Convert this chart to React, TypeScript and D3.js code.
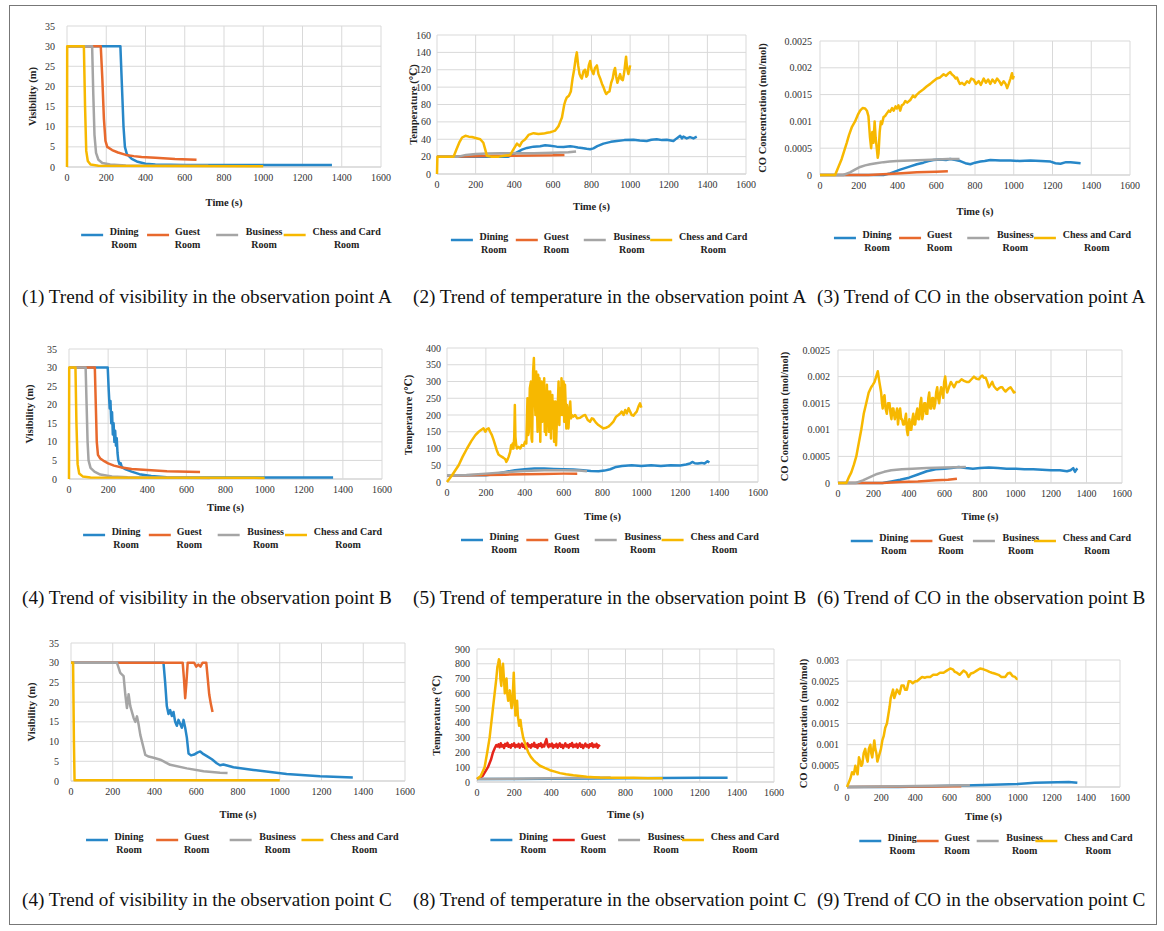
import React from 'react';
import * as d3 from 'd3';

type Pt = [number, number];

const FONT = "'Liberation Serif', 'Times New Roman', 'DejaVu Serif', serif";

// shared axis ticks
const timeTicks = [0, 200, 400, 600, 800, 1000, 1200, 1400, 1600];
const visTicks = [0, 5, 10, 15, 20, 25, 30, 35];
const tempATicks = [0, 20, 40, 60, 80, 100, 120, 140, 160];
const tempBTicks = [0, 50, 100, 150, 200, 250, 300, 350, 400];
const tempCTicks = [0, 100, 200, 300, 400, 500, 600, 700, 800, 900];
const coABTicks = [0, 0.0005, 0.001, 0.0015, 0.002, 0.0025];
const coCTicks = [0, 0.0005, 0.001, 0.0015, 0.002, 0.0025, 0.003];

const roomNames = [['Dining', 'Room'], ['Guest', 'Room'], ['Business', 'Room'], ['Chess and Card', 'Room']];
const roomColors = ['#2787C8', '#E8692D', '#A5A5A5', '#F7B800'];

const captions = [
  '(1) Trend of visibility in the observation point A',
  '(2) Trend of temperature in the observation point A',
  '(3) Trend of CO in the observation point A',
  '(4) Trend of visibility in the observation point B',
  '(5) Trend of temperature in the observation point B',
  '(6) Trend of CO in the observation point B',
  '(4) Trend of visibility in the observation point C',
  '(8) Trend of temperature in the observation point C',
  '(9) Trend of CO in the observation point C',
];

// ---- (1) visibility A
const visA_dining: Pt[] = [[0, 30], [272, 30], [280, 20], [288, 10], [295, 5], [305, 3.2], [330, 2], [360, 1.3], [400, 0.8], [450, 0.6], [600, 0.5], [1000, 0.5], [1350, 0.5]];
const visA_guest: Pt[] = [[0, 30], [172, 30], [180, 22], [188, 12], [196, 6.5], [205, 5], [230, 4.2], [260, 3.6], [300, 3], [340, 2.7], [380, 2.5], [450, 2.3], [550, 2], [660, 1.8]];
const visA_business: Pt[] = [[0, 30], [128, 30], [134, 18], [140, 8], [148, 3.5], [160, 1.8], [180, 1], [220, 0.6], [300, 0.4], [720, 0.3]];
const visA_chess: Pt[] = [[0, 0], [1, 30], [86, 30], [92, 15], [98, 4], [106, 1.5], [120, 0.6], [160, 0.3], [1000, 0.2]];

// ---- (2) temperature A
const tempA_dining: Pt[] = [[0, 20], [370, 20], [390, 22], [414, 25], [440, 28], [466, 30], [500, 31.5], [534, 32], [560, 33], [586, 32.5], [620, 31.5], [655, 31], [690, 32], [707, 31.5], [730, 30.5], [750, 30], [775, 29], [793, 28.5], [810, 29.5], [830, 32], [862, 35], [900, 37], [931, 38], [970, 39], [1017, 39.5], [1050, 38.5], [1086, 38], [1110, 39.5], [1138, 40], [1165, 39], [1190, 39.5], [1224, 38], [1241, 41], [1259, 44], [1268, 41], [1276, 43], [1293, 41], [1310, 42.5], [1328, 41], [1345, 43]];
const tempA_guest: Pt[] = [[0, 20], [120, 20], [200, 20.5], [300, 21], [400, 21], [500, 21.2], [600, 21.5], [660, 22]];
const tempA_business: Pt[] = [[0, 20], [110, 20], [150, 22], [200, 23], [260, 23.5], [330, 23.8], [400, 24], [500, 24], [600, 24.5], [680, 25], [720, 26]];
const tempA_chess: Pt[] = [[0, 0], [2, 20], [86, 20], [100, 28], [115, 36], [130, 42], [147, 44], [165, 43], [181, 42.5], [200, 41.5], [224, 40], [240, 36], [250, 28], [258, 21], [280, 20], [320, 20], [350, 21], [379, 22], [395, 28], [414, 35], [428, 32], [440, 37], [457, 40], [474, 45], [500, 47], [525, 46], [552, 46.5], [570, 47.5], [586, 48], [600, 49], [612, 50], [629, 55], [638, 60], [647, 65], [659, 80], [666, 85], [672, 88], [683, 90], [693, 95], [702, 110], [710, 120], [718, 133], [724, 140], [731, 125], [738, 115], [744, 112], [750, 110], [758, 118], [767, 120], [773, 112], [779, 114], [786, 125], [793, 130], [800, 120], [810, 115], [818, 122], [828, 125], [836, 115], [845, 110], [854, 104], [862, 100], [870, 95], [876, 92], [884, 94], [893, 95], [902, 105], [910, 110], [916, 118], [922, 122], [928, 112], [934, 105], [941, 110], [948, 115], [955, 109], [962, 108], [967, 114], [971, 120], [976, 130], [979, 135], [984, 122], [991, 115], [996, 120], [1000, 125]];

// ---- (3) CO A
const coA_dining: Pt[] = [[0, 0], [328, 0], [362, 0.00003], [414, 0.0001], [466, 0.00016], [500, 0.0002], [534, 0.00023], [560, 0.00026], [586, 0.00028], [620, 0.00029], [650, 0.00028], [672, 0.0003], [700, 0.00028], [724, 0.00026], [750, 0.00022], [776, 0.0002], [800, 0.00023], [828, 0.00025], [850, 0.00026], [879, 0.00028], [930, 0.00027], [983, 0.00027], [1030, 0.00026], [1086, 0.00027], [1140, 0.00026], [1190, 0.00025], [1215, 0.00022], [1241, 0.00021], [1270, 0.00024], [1293, 0.00024], [1320, 0.00023], [1345, 0.00022]];
const coA_guest: Pt[] = [[0, 0], [250, 0], [300, 0.00001], [400, 0.00003], [500, 0.00005], [600, 0.00006], [660, 0.00007]];
const coA_business: Pt[] = [[0, 0], [120, 0], [155, 0.00005], [180, 0.0001], [207, 0.00015], [233, 0.00018], [259, 0.0002], [290, 0.00022], [328, 0.00024], [360, 0.00025], [397, 0.00026], [466, 0.00027], [540, 0.00028], [603, 0.00029], [660, 0.0003], [720, 0.0003]];
const coA_chess: Pt[] = [[0, 0], [78, 0], [95, 0.00015], [112, 0.0003], [125, 0.00045], [138, 0.0006], [150, 0.00075], [165, 0.0009], [181, 0.001], [195, 0.00112], [207, 0.0012], [220, 0.00125], [233, 0.00124], [242, 0.0012], [250, 0.0011], [258, 0.0007], [264, 0.0005], [270, 0.0008], [276, 0.0006], [282, 0.001], [287, 0.0007], [293, 0.0005], [298, 0.00032], [302, 0.0004], [308, 0.0008], [314, 0.001], [320, 0.00095], [328, 0.00108], [336, 0.0011], [345, 0.00115], [355, 0.0012], [362, 0.00118], [372, 0.00125], [380, 0.0012], [390, 0.00128], [397, 0.00124], [405, 0.0013], [414, 0.0012], [422, 0.0013], [431, 0.00132], [440, 0.00138], [450, 0.00135], [466, 0.0014], [480, 0.00148], [490, 0.00145], [500, 0.0015], [515, 0.00155], [534, 0.0016], [550, 0.00165], [569, 0.0017], [585, 0.00175], [603, 0.0018], [620, 0.00182], [638, 0.00188], [650, 0.00185], [664, 0.0019], [672, 0.00192], [680, 0.00188], [690, 0.00185], [700, 0.0018], [707, 0.00182], [715, 0.00175], [722, 0.0017], [733, 0.00172], [745, 0.00168], [759, 0.00175], [770, 0.00172], [781, 0.0018], [793, 0.00178], [805, 0.0017], [819, 0.00175], [830, 0.00168], [845, 0.0018], [856, 0.00172], [868, 0.00178], [879, 0.0017], [890, 0.00178], [903, 0.00172], [914, 0.0018], [925, 0.00175], [936, 0.00168], [948, 0.00175], [958, 0.0017], [966, 0.00162], [974, 0.0017], [983, 0.0018], [991, 0.0019], [996, 0.0018], [1000, 0.00185]];

// ---- (4) visibility B
const visB_dining: Pt[] = [[0, 30], [198, 30], [203, 24], [208, 19], [212, 21], [216, 15], [220, 18], [224, 12], [228, 15], [232, 10], [236, 13], [240, 9], [244, 11], [248, 7], [252, 5], [258, 4], [264, 4.3], [270, 3.2], [290, 2.6], [320, 2], [360, 1.3], [420, 0.8], [500, 0.5], [800, 0.4], [1350, 0.4]];
const visB_guest: Pt[] = [[0, 30], [132, 30], [137, 20], [142, 10], [148, 6.5], [160, 5.5], [180, 4.8], [200, 4.2], [230, 3.6], [270, 3.1], [320, 2.7], [400, 2.4], [500, 2.1], [670, 1.9]];
const visB_business: Pt[] = [[0, 30], [85, 30], [90, 20], [95, 10], [100, 5], [110, 3], [130, 2], [160, 1.2], [220, 0.7], [300, 0.5], [720, 0.3]];
const visB_chess: Pt[] = [[0, 0], [1, 30], [33, 30], [38, 15], [44, 4], [52, 1.5], [70, 0.7], [110, 0.4], [1000, 0.3]];

// ---- (5) temperature B
const tempB_dining: Pt[] = [[0, 20], [200, 20], [250, 24], [300, 30], [350, 35], [400, 38], [450, 40], [500, 40], [550, 39], [600, 38], [650, 37], [700, 35], [740, 33], [780, 32], [810, 34], [840, 38], [870, 45], [900, 48], [950, 50], [1000, 48], [1050, 50], [1100, 48], [1150, 50], [1200, 49], [1230, 52], [1250, 55], [1262, 60], [1275, 56], [1290, 55], [1310, 57], [1325, 55], [1340, 62], [1350, 58]];
const tempB_guest: Pt[] = [[0, 20], [100, 20], [200, 21], [300, 22], [400, 23], [500, 24], [600, 25], [670, 25]];
const tempB_business: Pt[] = [[0, 20], [100, 21], [200, 25], [300, 29], [400, 33], [500, 35], [600, 35], [680, 34], [720, 32]];
const tempB_chess: Pt[] = [[0, 0], [26, 20], [43, 35], [60, 50], [80, 75], [103, 100], [125, 122], [146, 140], [163, 150], [175, 155], [188, 160], [197, 150], [205, 158], [214, 160], [222, 150], [231, 140], [240, 125], [248, 110], [256, 95], [265, 82], [274, 78], [283, 75], [291, 72], [300, 68], [305, 60], [310, 65], [317, 75], [325, 90], [330, 110], [334, 100], [338, 115], [342, 100], [346, 135], [349, 230], [352, 135], [356, 110], [360, 100], [368, 105], [377, 100], [385, 110], [394, 108], [401, 120], [408, 115], [414, 250], [418, 140], [421, 150], [426, 280], [432, 300], [435, 130], [438, 120], [443, 330], [447, 370], [451, 260], [455, 200], [459, 330], [462, 240], [466, 150], [469, 320], [473, 200], [476, 310], [480, 120], [483, 250], [487, 300], [490, 180], [494, 260], [497, 200], [500, 310], [503, 150], [507, 240], [510, 140], [514, 290], [517, 180], [521, 270], [524, 150], [528, 240], [531, 270], [535, 130], [538, 200], [542, 260], [545, 160], [549, 240], [551, 120], [555, 200], [558, 240], [561, 110], [565, 180], [570, 230], [574, 300], [578, 170], [582, 280], [586, 200], [589, 310], [593, 260], [596, 200], [600, 300], [603, 180], [607, 290], [610, 240], [614, 160], [617, 230], [621, 200], [625, 160], [630, 220], [634, 240], [638, 190], [642, 200], [650, 195], [659, 200], [670, 190], [685, 192], [700, 198], [711, 200], [724, 185], [736, 180], [745, 190], [753, 188], [765, 178], [779, 170], [792, 165], [805, 160], [818, 162], [830, 165], [843, 172], [856, 180], [870, 195], [882, 200], [892, 205], [899, 210], [908, 200], [917, 215], [925, 205], [934, 220], [942, 210], [950, 200], [959, 198], [968, 205], [976, 210], [985, 225], [993, 235], [1000, 222]];

// ---- (6) CO B
const coB_dining: Pt[] = [[0, 0], [250, 0], [300, 0.00003], [350, 0.00006], [400, 0.0001], [450, 0.00016], [500, 0.00022], [550, 0.00026], [600, 0.00027], [640, 0.00028], [680, 0.0003], [720, 0.00028], [760, 0.00027], [800, 0.00028], [850, 0.00029], [900, 0.00028], [950, 0.00027], [1000, 0.00027], [1050, 0.00026], [1100, 0.00026], [1150, 0.00025], [1200, 0.00024], [1250, 0.00024], [1290, 0.00022], [1310, 0.00024], [1325, 0.00028], [1335, 0.00021], [1345, 0.00026], [1350, 0.00027]];
const coB_guest: Pt[] = [[0, 0], [250, 0], [350, 0.00002], [450, 0.00003], [550, 0.00005], [620, 0.00006], [670, 0.00008]];
const coB_business: Pt[] = [[0, 0], [100, 0], [140, 0.00005], [180, 0.00011], [220, 0.00017], [260, 0.00021], [300, 0.00024], [360, 0.00026], [420, 0.00027], [500, 0.00028], [600, 0.00029], [720, 0.0003]];
const coB_chess: Pt[] = [[0, 0], [47, 0], [60, 0.0001], [75, 0.0002], [90, 0.00035], [103, 0.0005], [117, 0.00075], [131, 0.001], [145, 0.0013], [159, 0.0015], [173, 0.0017], [187, 0.0018], [197, 0.00185], [206, 0.0019], [215, 0.002], [224, 0.0021], [233, 0.0019], [243, 0.0017], [248, 0.0015], [252, 0.0014], [257, 0.0016], [262, 0.00165], [268, 0.0014], [275, 0.0013], [282, 0.0015], [290, 0.0015], [296, 0.0013], [301, 0.0012], [307, 0.0014], [312, 0.0014], [320, 0.0012], [327, 0.0013], [333, 0.0014], [338, 0.0011], [344, 0.0013], [350, 0.0014], [356, 0.0012], [361, 0.0012], [367, 0.0011], [372, 0.0011], [378, 0.0012], [383, 0.0013], [388, 0.001], [393, 0.0009], [398, 0.0011], [402, 0.0012], [408, 0.001], [413, 0.001], [419, 0.0012], [424, 0.0013], [430, 0.0011], [435, 0.0011], [441, 0.0013], [447, 0.0014], [452, 0.0012], [458, 0.0012], [464, 0.0015], [469, 0.0016], [475, 0.0012], [480, 0.0013], [486, 0.0015], [492, 0.0015], [497, 0.0013], [503, 0.0013], [509, 0.0016], [514, 0.0017], [520, 0.0014], [525, 0.0014], [531, 0.0016], [536, 0.0016], [542, 0.0014], [548, 0.0015], [553, 0.0017], [559, 0.0018], [564, 0.0016], [570, 0.0015], [576, 0.0017], [581, 0.0018], [587, 0.0017], [593, 0.0016], [598, 0.0019], [604, 0.002], [610, 0.0018], [615, 0.0017], [625, 0.0018], [636, 0.0019], [645, 0.00185], [654, 0.0018], [668, 0.0019], [682, 0.0019], [696, 0.00195], [710, 0.00192], [724, 0.0019], [738, 0.0019], [752, 0.00195], [766, 0.002], [780, 0.00196], [794, 0.00195], [805, 0.002], [813, 0.00202], [822, 0.00198], [832, 0.00198], [841, 0.0019], [850, 0.0018], [860, 0.00185], [869, 0.0019], [878, 0.00182], [888, 0.00178], [897, 0.00175], [906, 0.00178], [916, 0.0018], [925, 0.0018], [935, 0.00175], [944, 0.00172], [953, 0.00175], [963, 0.00178], [972, 0.0018], [982, 0.00175], [991, 0.0017], [1000, 0.00172]];

// ---- (7) visibility C
const visC_dining: Pt[] = [[0, 30], [443, 30], [451, 25], [459, 19], [467, 17], [475, 18], [483, 16.5], [491, 17.5], [499, 15], [507, 14], [515, 15.5], [523, 14.5], [531, 13.5], [539, 15.5], [547, 13.5], [555, 11], [563, 7], [575, 6.5], [590, 6.7], [605, 7.2], [619, 7.5], [635, 6.8], [651, 6.3], [675, 5.5], [698, 4.5], [714, 4], [730, 4.2], [778, 3.5], [874, 2.8], [1033, 1.8], [1193, 1.2], [1350, 0.9]];
const visC_guest: Pt[] = [[0, 30], [535, 30], [541, 26], [547, 21], [553, 25], [559, 30], [590, 30], [600, 29], [610, 29.5], [620, 29], [630, 30], [648, 30], [655, 26], [662, 22], [670, 19.5], [678, 17.5]];
const visC_business: Pt[] = [[0, 30], [220, 30], [236, 27.4], [252, 26.6], [260, 22], [268, 18.5], [276, 22], [284, 19], [300, 16], [308, 15], [316, 16.4], [324, 14.3], [332, 11.7], [348, 8.3], [356, 6.6], [372, 6.2], [396, 5.9], [428, 5.4], [475, 4.1], [555, 3.2], [635, 2.5], [714, 2.1], [750, 2]];
const visC_chess: Pt[] = [[0, 30], [10, 30], [14, 10], [17, 0.2], [1000, 0.2]];

// ---- (8) temperature C
const tempC_dining: Pt[] = [[0, 20], [200, 20], [400, 22], [600, 24], [800, 26], [1000, 27], [1200, 28], [1350, 29]];
const tempC_guest: Pt[] = [[0, 20], [30, 40], [59, 100], [75, 150], [86, 200], [96, 230], [104, 250], [110, 240], [116, 255], [122, 235], [128, 262], [134, 240], [140, 250], [146, 230], [152, 258], [158, 245], [164, 265], [170, 238], [176, 250], [182, 232], [188, 255], [194, 245], [200, 262], [206, 235], [212, 250], [218, 240], [224, 258], [230, 232], [236, 248], [242, 260], [248, 238], [254, 252], [260, 228], [266, 245], [272, 262], [278, 240], [284, 250], [290, 232], [296, 255], [302, 243], [308, 265], [314, 238], [320, 250], [326, 230], [332, 256], [338, 244], [344, 262], [350, 236], [356, 252], [362, 240], [368, 270], [374, 290], [380, 250], [386, 236], [392, 255], [398, 242], [404, 260], [410, 232], [416, 250], [422, 240], [428, 258], [434, 232], [440, 248], [446, 262], [452, 238], [458, 252], [464, 230], [470, 246], [476, 262], [482, 240], [488, 250], [494, 232], [500, 256], [506, 244], [512, 264], [518, 236], [524, 252], [530, 240], [536, 258], [542, 232], [548, 248], [554, 262], [560, 238], [566, 252], [572, 230], [578, 246], [584, 260], [590, 240], [596, 250], [602, 232], [608, 256], [614, 244], [620, 262], [626, 236], [632, 252], [638, 240], [644, 258], [650, 232], [656, 248], [662, 240]];
const tempC_business: Pt[] = [[0, 20], [200, 22], [400, 25], [600, 28], [720, 30]];
const tempC_chess: Pt[] = [[0, 20], [20, 40], [41, 100], [55, 200], [68, 300], [77, 400], [86, 500], [95, 600], [104, 700], [110, 780], [114, 800], [118, 830], [122, 820], [126, 700], [131, 650], [135, 760], [140, 800], [145, 700], [150, 600], [154, 680], [159, 700], [163, 600], [168, 550], [172, 590], [177, 620], [182, 540], [186, 500], [190, 520], [194, 620], [198, 740], [202, 600], [207, 450], [211, 500], [216, 550], [220, 450], [227, 380], [234, 420], [240, 360], [249, 300], [262, 250], [276, 200], [290, 170], [303, 150], [320, 130], [339, 110], [365, 95], [393, 80], [420, 70], [447, 60], [480, 52], [519, 45], [555, 40], [591, 35], [630, 32], [663, 30], [750, 29], [843, 28], [920, 26], [987, 25], [1000, 25]];

// ---- (9) CO C
const coC_dining: Pt[] = [[0, 0], [300, 0], [500, 0.00002], [800, 0.00005], [1000, 0.00007], [1100, 0.0001], [1300, 0.00012], [1350, 0.0001]];
const coC_guest: Pt[] = [[0, 0], [670, 0.00002]];
const coC_business: Pt[] = [[0, 0], [720, 0.00004]];
const coC_chess: Pt[] = [[0, 0], [10, 0.0001], [20, 0.0002], [30, 0.00035], [40, 0.0003], [49, 0.0005], [55, 0.0004], [62, 0.0003], [70, 0.0007], [78, 0.0006], [84, 0.0005], [90, 0.00055], [98, 0.0008], [107, 0.0009], [114, 0.0007], [121, 0.0006], [128, 0.0009], [137, 0.001], [142, 0.0008], [148, 0.0007], [154, 0.0009], [160, 0.0011], [166, 0.0009], [172, 0.0008], [178, 0.0006], [185, 0.0007], [192, 0.0008], [199, 0.0009], [207, 0.0011], [215, 0.0012], [224, 0.0014], [234, 0.0015], [242, 0.0017], [250, 0.0019], [256, 0.0021], [263, 0.0022], [270, 0.0023], [277, 0.0021], [285, 0.0022], [293, 0.0023], [300, 0.00225], [308, 0.0022], [320, 0.0024], [332, 0.0024], [340, 0.0023], [351, 0.0023], [362, 0.0025], [371, 0.0025], [385, 0.00245], [400, 0.0025], [410, 0.0025], [425, 0.00255], [440, 0.0026], [455, 0.00258], [470, 0.0026], [488, 0.0026], [505, 0.00265], [527, 0.00265], [545, 0.0027], [566, 0.0027], [585, 0.00275], [605, 0.0028], [620, 0.00278], [632, 0.00272], [644, 0.0027], [660, 0.00265], [683, 0.00275], [700, 0.0027], [712, 0.0026], [726, 0.00268], [741, 0.0027], [760, 0.00275], [780, 0.0028], [800, 0.00278], [820, 0.00275], [835, 0.00272], [849, 0.0027], [865, 0.00268], [888, 0.00265], [905, 0.0026], [927, 0.0026], [942, 0.00268], [956, 0.0027], [970, 0.00262], [985, 0.0026], [995, 0.00255], [1000, 0.00255]];

interface Panel {
  left: number; right: number; top: number; bottom: number;
  yTicks: number[]; yLabel: string; yLabelX: number; tickGap: number;
  timeY: number; legendY: number;
  series: Pt[][];
  colors?: string[];
}

const panels: Panel[] = [
  { left: 67, right: 381, top: 26, bottom: 167, yTicks: visTicks, yLabel: 'Visibility (m)', yLabelX: 32, tickGap: 12, timeY: 206, legendY: 235,
    series: [visA_dining, visA_guest, visA_business, visA_chess] },
  { left: 437, right: 746, top: 35, bottom: 174, yTicks: tempATicks, yLabel: 'Temperature (℃)', yLabelX: 413, tickGap: 6, timeY: 210, legendY: 240,
    series: [tempA_dining, tempA_guest, tempA_business, tempA_chess] },
  { left: 820, right: 1130, top: 41, bottom: 175, yTicks: coABTicks, yLabel: 'CO Concentration (mol/mol)', yLabelX: 762, tickGap: 8, timeY: 215, legendY: 238,
    series: [coA_dining, coA_guest, coA_business, coA_chess] },
  { left: 69, right: 382, top: 349, bottom: 479, yTicks: visTicks, yLabel: 'Visibility (m)', yLabelX: 29, tickGap: 12, timeY: 511, legendY: 535,
    series: [visB_dining, visB_guest, visB_business, visB_chess] },
  { left: 447, right: 758, top: 348, bottom: 482, yTicks: tempBTicks, yLabel: 'Temperature (℃)', yLabelX: 408, tickGap: 6, timeY: 520, legendY: 540,
    series: [tempB_dining, tempB_guest, tempB_business, tempB_chess] },
  { left: 838, right: 1122, top: 350, bottom: 483, yTicks: coABTicks, yLabel: 'CO Concentration (mol/mol)', yLabelX: 784, tickGap: 8, timeY: 520, legendY: 541,
    series: [coB_dining, coB_guest, coB_business, coB_chess] },
  { left: 71, right: 405, top: 643, bottom: 781, yTicks: visTicks, yLabel: 'Visibility (m)', yLabelX: 31, tickGap: 12, timeY: 818, legendY: 840,
    series: [visC_dining, visC_guest, visC_business, visC_chess] },
  { left: 477, right: 774, top: 649, bottom: 782, yTicks: tempCTicks, yLabel: 'Temperature (℃)', yLabelX: 436, tickGap: 7, timeY: 818, legendY: 840,
    series: [tempC_dining, tempC_guest, tempC_business, tempC_chess],
    colors: ['#2787C8', '#E5251A', '#A5A5A5', '#F7B800'] },
  { left: 847, right: 1120, top: 660, bottom: 787, yTicks: coCTicks, yLabel: 'CO Concentration (mol/mol)', yLabelX: 803, tickGap: 8, timeY: 820, legendY: 841,
    series: [coC_dining, coC_guest, coC_business, coC_chess] },
];

const captionX = [22, 413, 817];
const captionY = [303, 604, 906];

const fmt = (v: number) => String(+v.toFixed(4));

function ChartPanel({ p }: { p: Panel }) {
  const yMax = p.yTicks[p.yTicks.length - 1];
  const x = d3.scaleLinear().domain([0, 1600]).range([p.left, p.right]);
  const y = d3.scaleLinear().domain([0, yMax]).range([p.bottom, p.top]);
  const line = d3.line<Pt>().x((d) => x(d[0])).y((d) => y(d[1]));
  const colors = p.colors || roomColors;
  const w = p.right - p.left;
  const slots = [0.045, 0.255, 0.475, 0.69];
  const midY = (p.top + p.bottom) / 2;

  return (
    <g>
      {p.yTicks.map((t) => (
        <line key={'h' + t} x1={p.left} x2={p.right} y1={y(t)} y2={y(t)} stroke={t === 0 ? '#BFBFBF' : '#D9D9D9'} strokeWidth={1} />
      ))}
      {timeTicks.map((t) => (
        <line key={'v' + t} x1={x(t)} x2={x(t)} y1={p.top} y2={p.bottom} stroke="#D9D9D9" strokeWidth={1} />
      ))}
      {p.yTicks.map((t) => (
        <text key={'yt' + t} x={p.left - p.tickGap} y={y(t) + 3.5} textAnchor="end" fontSize={10} fill="#333" fontFamily={FONT}>{fmt(t)}</text>
      ))}
      {timeTicks.map((t) => (
        <text key={'xt' + t} x={x(t)} y={p.bottom + 14} textAnchor="middle" fontSize={10} fill="#333" fontFamily={FONT}>{t}</text>
      ))}
      <text x={(p.left + p.right) / 2} y={p.timeY} textAnchor="middle" fontSize={10.5} fontWeight="bold" fill="#222" fontFamily={FONT}>Time (s)</text>
      <text transform={`translate(${p.yLabelX},${midY}) rotate(-90)`} textAnchor="middle" dy="0.35em" fontSize={10.5} fontWeight="bold" fill="#222" fontFamily={FONT}>{p.yLabel}</text>
      {p.series.map((s, i) => (
        <path key={'s' + i} d={line(s) || ''} fill="none" stroke={colors[i]} strokeWidth={2.5} strokeLinejoin="round" />
      ))}
      {roomNames.map((lines, i) => {
        const sx = p.left + slots[i] * w;
        const tw = Math.max(...lines.map((l) => l.length)) * 5;
        const cx = sx + 22 + 6 + tw / 2;
        return (
          <g key={'lg' + i}>
            <line x1={sx} x2={sx + 22} y1={p.legendY} y2={p.legendY} stroke={colors[i]} strokeWidth={2.5} />
            {lines.map((l, j) => (
              <text key={j} x={cx} y={p.legendY + j * 12.5} textAnchor="middle" fontSize={10} fontWeight="bold" fill="#222" fontFamily={FONT}>{l}</text>
            ))}
          </g>
        );
      })}
    </g>
  );
}

export default function App() {
  return (
    <svg width={1164} height={931} style={{ position: 'absolute', left: 0, top: 0, background: '#fff' }}>
      <rect x={9.5} y={5.5} width={1147} height={919} fill="none" stroke="#777" strokeWidth={1} />
      {panels.map((p, i) => (
        <ChartPanel key={i} p={p} />
      ))}
      {captions.map((c, i) => (
        <text key={'c' + i} x={captionX[i % 3]} y={captionY[Math.floor(i / 3)]} fontSize={19.2} fill="#111" fontFamily={FONT}>{c}</text>
      ))}
    </svg>
  );
}
